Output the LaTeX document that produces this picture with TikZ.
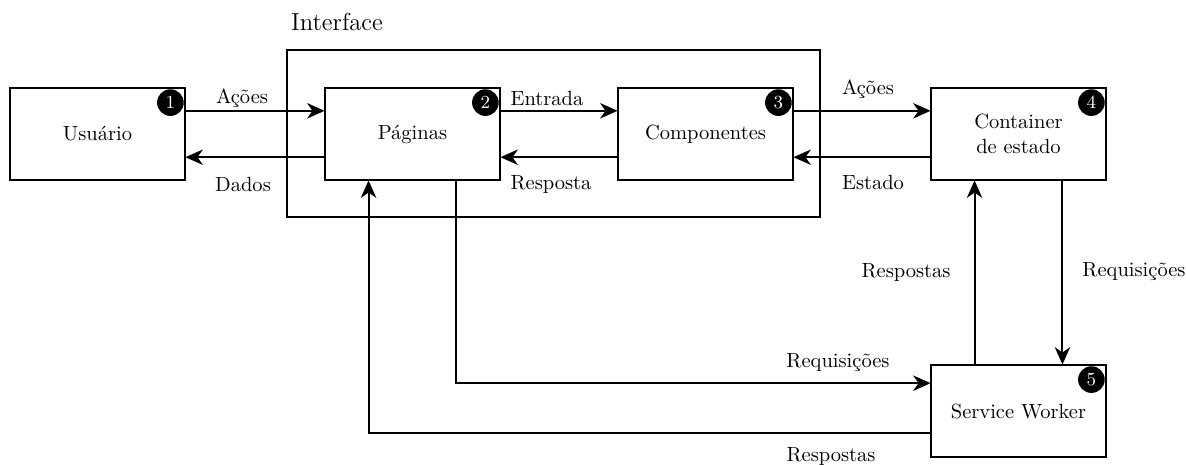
\documentclass[tikz,border=0pt]{standalone}
\usetikzlibrary{arrows.meta,calc}
\begin{document}
\begin{tikzpicture}[x=0.4875pt,y=-0.4875pt,
  box/.style={rectangle,minimum width=85.3pt,minimum height=44.85pt,align=center,inner sep=0pt},
  arr/.style={line width=1pt,-{Stealth[length=8.5pt,width=7.5pt,inset=2.6pt]}},
  lbl/.style={inner sep=0pt},
  badge/.style={circle,fill=black,text=white,inner sep=0pt,minimum size=13pt,font=\small}]
\useasboundingbox (0,0) rectangle (1186,464);

% outer frame of the interface layer
\node[draw,line width=1pt,rectangle,minimum width=259.8pt,minimum height=81.4pt,inner sep=0pt] (iface) at (553.5,133.5) {};
\node[lbl,font=\large] (ifacelbl) at (337,22) {Interface};

% components
\node[box] (u)  at (97.5,134)   {Usuário};
\node[box] (p)  at (412.5,134)  {Páginas};
\node[box] (c)  at (705.5,134)  {Componentes};
\node[box] (s)  at (1018.5,134) {Container\\de estado};
\node[box] (sw) at (1018.5,411) {Service Worker};

% numbered badges in the upper right corners, then the box outlines
\foreach \n/\k in {u/1,p/2,c/3,s/4,sw/5}{
  \begin{scope}
    \clip (\n.north west) rectangle (\n.south east);
    \node[badge] (b\k) at ($(\n.north east)+(-15,15)$) {\k};
  \end{scope}
  \draw[line width=1pt] (\n.north west) rectangle (\n.south east);
}

% horizontal flows
\draw[arr] ($(u.north east)!0.25!(u.south east)$) -- ($(p.north west)!0.25!(p.south west)$);
\draw[arr] ($(p.north west)!0.75!(p.south west)$) -- ($(u.north east)!0.75!(u.south east)$);
\draw[arr] ($(p.north east)!0.25!(p.south east)$) -- ($(c.north west)!0.25!(c.south west)$);
\draw[arr] ($(c.north west)!0.75!(c.south west)$) -- ($(p.north east)!0.75!(p.south east)$);
\draw[arr] ($(c.north east)!0.25!(c.south east)$) -- ($(s.north west)!0.25!(s.south west)$);
\draw[arr] ($(s.north west)!0.75!(s.south west)$) -- ($(c.north east)!0.75!(c.south east)$);

% store <-> service worker
\draw[arr] ($(s.south west)!0.75!(s.south east)$) -- ($(sw.north west)!0.75!(sw.north east)$);
\draw[arr] ($(sw.north west)!0.25!(sw.north east)$) -- ($(s.south west)!0.25!(s.south east)$);

% pages <-> service worker
\draw[arr] ($(p.south west)!0.75!(p.south east)$) |- ($(sw.north west)!0.2!(sw.south west)$);
\draw[arr] ($(sw.north west)!0.74!(sw.south west)$) -| ($(p.south west)!0.25!(p.south east)$);

% labels
\node[lbl] (l1) at (242,98)  {Ações};
\node[lbl] (l2) at (243,184) {Dados};
\node[lbl] (l3) at (547,98)  {Entrada};
\node[lbl] (l4) at (551,184) {Resposta};
\node[lbl] (l5) at (868,89)  {Ações};
\node[lbl] (l6) at (873,182) {Estado};
\node[lbl] (l7) at (906,272) {Respostas};
\node[lbl] (l8) at (1134,272) {Requisições};
\node[lbl] (l9) at (838,363) {Requisições};
\node[lbl] (l10) at (831,456) {Respostas};
\end{tikzpicture}
\end{document}
